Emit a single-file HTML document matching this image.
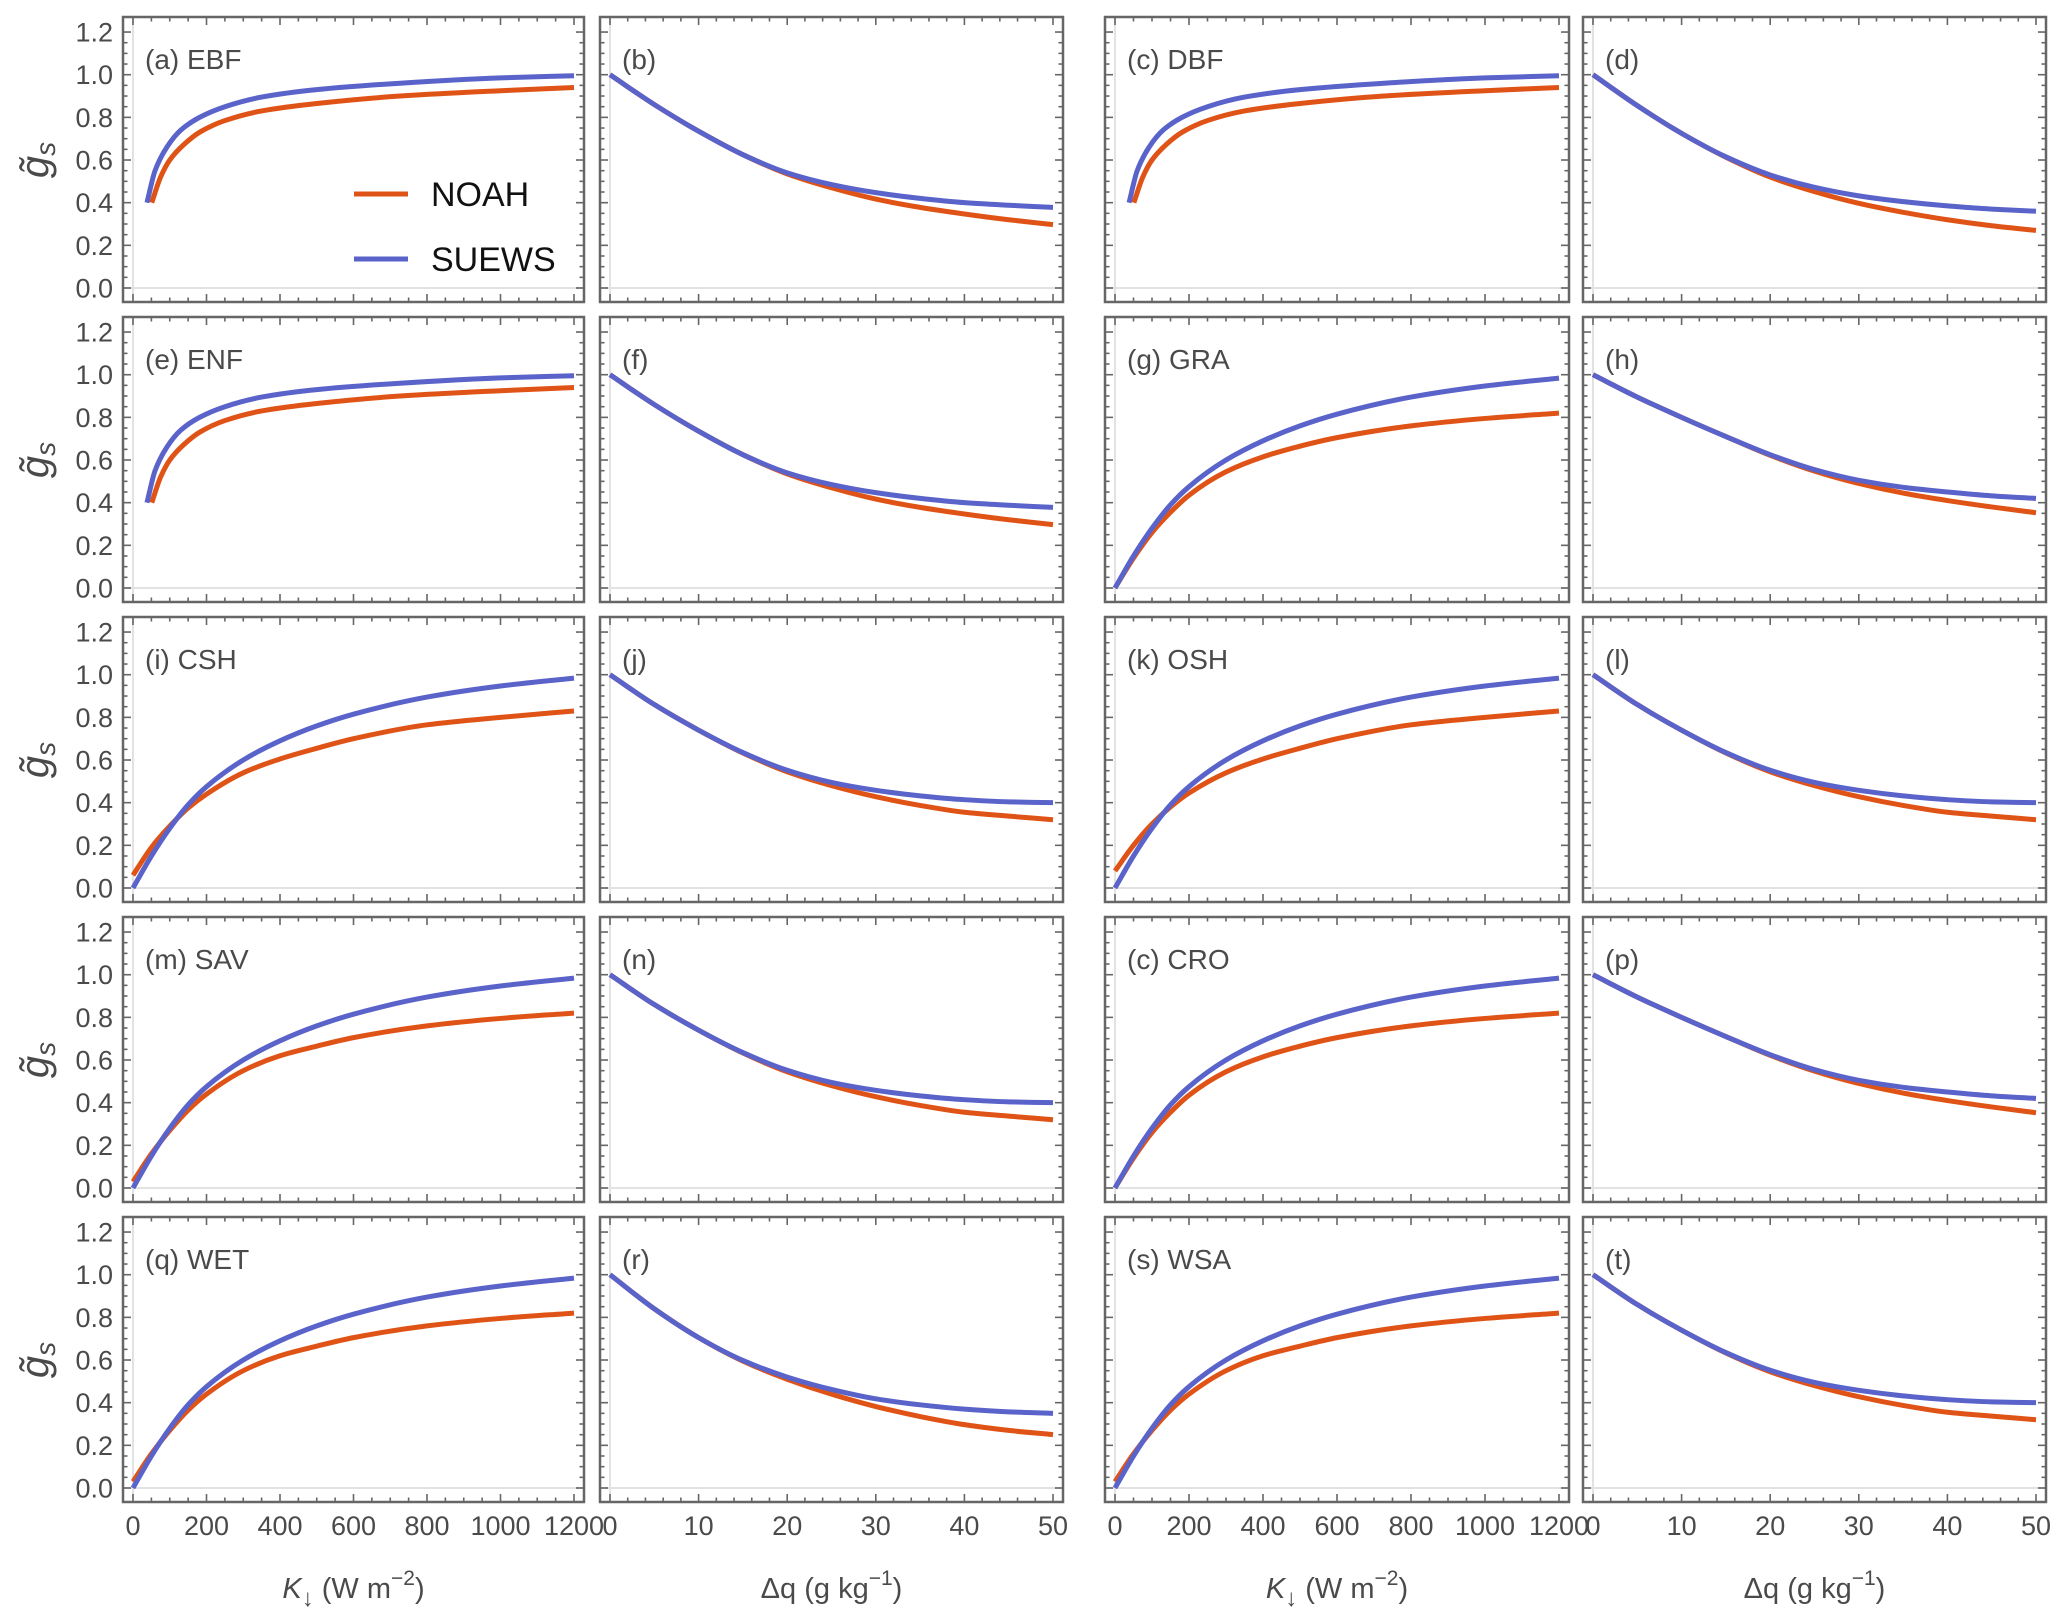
<!DOCTYPE html>
<html><head><meta charset="utf-8">
<style>
html,body{margin:0;padding:0;background:#fff;}
svg{display:block;font-family:"Liberation Sans",Arial,sans-serif;}
</style></head>
<body>
<svg id="fig" width="2067" height="1623" viewBox="0 0 2067 1623" xmlns="http://www.w3.org/2000/svg"></svg>
<script>
// ---- data ----
const kX = [0, 50, 100, 150, 200, 300, 400, 500, 600, 800, 1000, 1200];
const kXshort = [38, 60, 92, 130, 181, 250, 350, 500, 727, 1000, 1200];
const kXshortN = [51, 75, 100, 140, 181, 250, 350, 500, 727, 1000, 1200];
const ebfSuews = [0.40, 0.55, 0.66, 0.74, 0.80, 0.85, 0.895, 0.93, 0.96, 0.985, 0.995];
const ebfNoah = [0.40, 0.52, 0.60, 0.675, 0.73, 0.785, 0.83, 0.865, 0.90, 0.925, 0.94];
const kSuews = [0.0, 0.15, 0.28, 0.39, 0.475, 0.60, 0.69, 0.76, 0.815, 0.895, 0.947, 0.984];
const kNoahGra = [0.0, 0.14, 0.26, 0.355, 0.435, 0.545, 0.615, 0.665, 0.705, 0.76, 0.795, 0.82];
const kNoahCsh = [0.06, 0.19, 0.29, 0.375, 0.44, 0.54, 0.605, 0.655, 0.70, 0.765, 0.80, 0.83];
const kNoahOsh = [0.08, 0.20, 0.30, 0.38, 0.445, 0.54, 0.605, 0.655, 0.70, 0.765, 0.80, 0.83];
const kNoahSav = [0.03, 0.16, 0.27, 0.365, 0.44, 0.55, 0.62, 0.665, 0.705, 0.76, 0.795, 0.82];
const qX = [0, 5, 10, 15, 20, 25, 30, 35, 40, 45, 50];
const qSuewsB = [1, 0.86, 0.735, 0.625, 0.54, 0.485, 0.447, 0.42, 0.40, 0.388, 0.378];
const qNoahB = [1, 0.86, 0.735, 0.625, 0.535, 0.47, 0.417, 0.378, 0.347, 0.32, 0.297];
const qSuewsD = [1, 0.855, 0.725, 0.615, 0.53, 0.472, 0.432, 0.405, 0.385, 0.37, 0.36];
const qNoahD = [1, 0.855, 0.725, 0.613, 0.52, 0.452, 0.397, 0.355, 0.32, 0.292, 0.27];
const qSuewsH = [1, 0.895, 0.80, 0.71, 0.625, 0.555, 0.505, 0.472, 0.45, 0.432, 0.42];
const qNoahH = [1, 0.895, 0.80, 0.71, 0.622, 0.548, 0.49, 0.445, 0.41, 0.38, 0.353];
const qSuewsJ = [1, 0.86, 0.74, 0.635, 0.552, 0.495, 0.458, 0.432, 0.414, 0.404, 0.40];
const qNoahJ = [1, 0.86, 0.74, 0.633, 0.545, 0.48, 0.428, 0.387, 0.355, 0.337, 0.32];
const qSuewsR = [1, 0.84, 0.705, 0.598, 0.52, 0.462, 0.418, 0.39, 0.37, 0.357, 0.35];
const qNoahR = [1, 0.84, 0.705, 0.595, 0.51, 0.44, 0.382, 0.335, 0.297, 0.27, 0.25];
const panelLabels = ["(a)  EBF","(b)","(c)  DBF","(d)","(e)  ENF","(f)","(g)  GRA","(h)","(i)  CSH","(j)","(k)  OSH","(l)","(m)  SAV","(n)","(c)  CRO","(p)","(q)  WET","(r)","(s)   WSA","(t)"];
const yTicks = [0.0, 0.2, 0.4, 0.6, 0.8, 1.0, 1.2];
const kTicks = [0, 200, 400, 600, 800, 1000, 1200];
const qTicks = [0, 10, 20, 30, 40, 50];

const panels = [
 {k:true, nx:kXshortN, n:ebfNoah, sx:kXshort, s:ebfSuews},{k:false, n:qNoahB, s:qSuewsB},
 {k:true, nx:kXshortN, n:ebfNoah, sx:kXshort, s:ebfSuews},{k:false, n:qNoahD, s:qSuewsD},
 {k:true, nx:kXshortN, n:ebfNoah, sx:kXshort, s:ebfSuews},{k:false, n:qNoahB, s:qSuewsB},
 {k:true, nx:kX, n:kNoahGra, sx:kX, s:kSuews},{k:false, n:qNoahH, s:qSuewsH},
 {k:true, nx:kX, n:kNoahCsh, sx:kX, s:kSuews},{k:false, n:qNoahJ, s:qSuewsJ},
 {k:true, nx:kX, n:kNoahOsh, sx:kX, s:kSuews},{k:false, n:qNoahJ, s:qSuewsJ},
 {k:true, nx:kX, n:kNoahSav, sx:kX, s:kSuews},{k:false, n:qNoahJ, s:qSuewsJ},
 {k:true, nx:kX, n:kNoahGra, sx:kX, s:kSuews},{k:false, n:qNoahH, s:qSuewsH},
 {k:true, nx:kX, n:kNoahSav, sx:kX, s:kSuews},{k:false, n:qNoahR, s:qSuewsR},
 {k:true, nx:kX, n:kNoahSav, sx:kX, s:kSuews},{k:false, n:qNoahJ, s:qSuewsJ}
];

const NS = "http://www.w3.org/2000/svg";
const svg = document.getElementById("fig");
const colL = [123, 600, 1105, 1583];
const colR = [584, 1063, 1569, 2046];
const ORANGE = "#e05317", BLUE = "#5a63c9", FRAME = "#666", TXT = "#4a4a4a";

function mk(tag, attrs, parent){
  const e = document.createElementNS(NS, tag);
  for (const a in attrs) e.setAttribute(a, attrs[a]);
  (parent||svg).appendChild(e);
  return e;
}
// monotone cubic (Fritsch-Carlson) path
function smoothPath(pts){
  const n = pts.length, dx=[], dy=[], m=[], t=new Array(n);
  for (let i=0;i<n-1;i++){ dx[i]=pts[i+1][0]-pts[i][0]; dy[i]=pts[i+1][1]-pts[i][1]; m[i]=dy[i]/dx[i]; }
  t[0]=m[0]; t[n-1]=m[n-2];
  for (let i=1;i<n-1;i++){
    if (m[i-1]*m[i]<=0) t[i]=0;
    else { const w1=2*dx[i]+dx[i-1], w2=dx[i]+2*dx[i-1]; t[i]=(w1+w2)/(w1/m[i-1]+w2/m[i]); }
  }
  let d = "M"+pts[0][0].toFixed(2)+","+pts[0][1].toFixed(2);
  for (let i=0;i<n-1;i++){
    const h=dx[i]/3;
    d += " C"+(pts[i][0]+h).toFixed(2)+","+(pts[i][1]+t[i]*h).toFixed(2)+" "+(pts[i+1][0]-h).toFixed(2)+","+(pts[i+1][1]-t[i+1]*h).toFixed(2)+" "+pts[i+1][0].toFixed(2)+","+pts[i+1][1].toFixed(2);
  }
  return d;
}

panels.forEach((p, idx) => {
  const row = Math.floor(idx/4), col = idx%4;
  const L = colL[col], R = colR[col], T = 17 + row*300, B = 302 + row*300;
  const x0 = L + 10, x1 = R - 10;
  const xmax = p.k ? 1200 : 50;
  const xs = v => x0 + (v/xmax)*(x1-x0);
  const ys = v => (T+271) - v*213.3;
  const g = mk("g", {});
  
  
  mk("line", {x1:L, x2:R, y1:ys(0), y2:ys(0), stroke:"#e2e2e2", "stroke-width":2}, g);
  mk("line", {x1:xs(0), x2:xs(0), y1:T, y2:B, stroke:"#e2e2e2", "stroke-width":2}, g);
  const tk = mk("g", {stroke:FRAME, "stroke-width":1.6}, g);
  for (let v=0; v<=1.2001; v+=0.05){
    const major = Math.abs(v*5 - Math.round(v*5))<1e-6;
    const len = major?8:4.5, y=ys(v);
    mk("line",{x1:L,x2:L+len,y1:y,y2:y},tk);
    mk("line",{x1:R,x2:R-len,y1:y,y2:y},tk);
  }
  const step = p.k?50:2, mstep = p.k?200:10;
  for (let v=0; v<=xmax+1e-6; v+=step){
    const major = Math.abs(v/mstep - Math.round(v/mstep))<1e-6;
    const len = major?8:4.5, x=xs(v);
    mk("line",{x1:x,x2:x,y1:B,y2:B-len},tk);
    mk("line",{x1:x,x2:x,y1:T,y2:T+len},tk);
  }
  const fr = mk("rect",{x:L,y:T,width:R-L,height:B-T,fill:"none",stroke:FRAME,"stroke-width":2.5},g);
  
  
  const xn = p.k ? p.nx : qX, xsu = p.k ? p.sx : qX;
  const pn = mk("path",{d:smoothPath(p.n.map((v,i)=>[xs(xn[i]), ys(v)])), fill:"none", stroke:ORANGE, "stroke-width":5}, g);
  
  
  const ps = mk("path",{d:smoothPath(p.s.map((v,i)=>[xs(xsu[i]), ys(v)])), fill:"none", stroke:BLUE, "stroke-width":5}, g);
  
  
  const lb = mk("text",{x:L+22, y:T+52, "font-size":28, fill:TXT, "xml:space":"preserve"}, g);
  lb.textContent = panelLabels[idx];
  
  
  if (col===0){
    yTicks.forEach(v=>{
      const t = mk("text",{x:L-10, y:ys(v)+9.5, "font-size":27, fill:TXT, "text-anchor":"end"}, g);
      t.textContent = v.toFixed(1);
      
      
    });
    const yt = mk("text",{x:0, y:0, "font-size":40, fill:TXT, "font-style":"italic", "text-anchor":"middle", transform:"translate(48,"+(ys(0.6))+") rotate(-90)"}, g);
    yt.textContent = "g\u0303";
    const sub = mk("tspan",{"font-size":28, dy:7}, yt);
    sub.textContent = "s";
    
    
  }
  if (row===4){
    (p.k?kTicks:qTicks).forEach(v=>{
      const t = mk("text",{x:xs(v), y:1535, "font-size":27, fill:TXT, "text-anchor":"middle"}, g);
      t.textContent = String(v);
      
      
    });
    const xt = mk("text",{x:(x0+x1)/2, y:1598, "font-size":29, fill:TXT, "text-anchor":"middle"}, g);
    
    
    if (p.k){
      const a = mk("tspan",{"font-style":"italic"},xt); a.textContent="K";
      const b = mk("tspan",{"font-size":24, dy:8},xt); b.textContent="\u2193";
      const c = mk("tspan",{dy:-8},xt); c.textContent=" (W m";
      const d = mk("tspan",{"font-size":21, dy:-13},xt); d.textContent="\u22122";
      const e = mk("tspan",{dy:13},xt); e.textContent=")";
    } else {
      const a = mk("tspan",{},xt); a.textContent="\u0394q (g kg";
      const d = mk("tspan",{"font-size":21, dy:-13},xt); d.textContent="\u22121";
      const e = mk("tspan",{dy:13},xt); e.textContent=")";
    }
  }
});

const lg = mk("g",{});


const l1 = mk("line",{x1:354,x2:408,y1:194,y2:194,stroke:ORANGE,"stroke-width":5},lg);


const t1 = mk("text",{x:431,y:206,"font-size":34,fill:"#111"},lg);
t1.textContent = "NOAH";


const l2 = mk("line",{x1:354,x2:408,y1:259,y2:259,stroke:BLUE,"stroke-width":5},lg);


const t2 = mk("text",{x:431,y:271,"font-size":34,fill:"#111"},lg);
t2.textContent = "SUEWS";


</script>
</body></html>
